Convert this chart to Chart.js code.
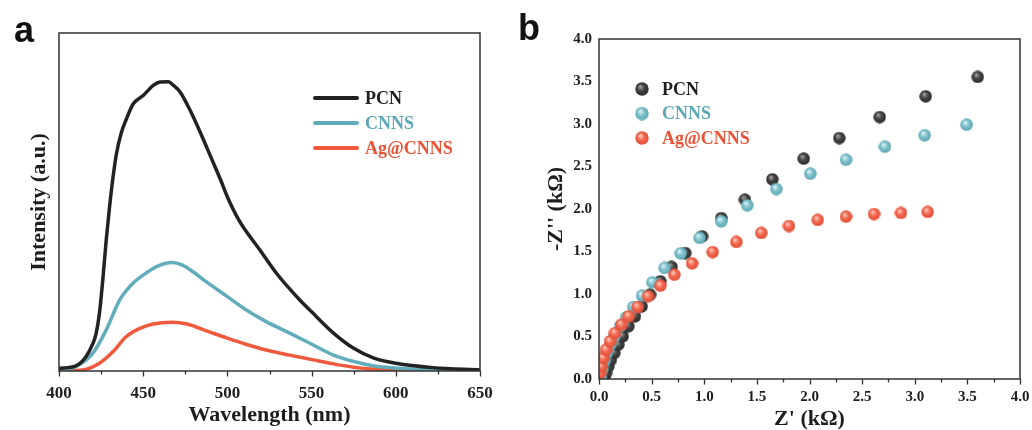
<!DOCTYPE html>
<html>
<head>
<meta charset="utf-8">
<script src="https://cdn.jsdelivr.net/npm/chart.js@4.4.1/dist/chart.umd.min.js"></script>
<style>
  html, body { margin: 0; padding: 0; background: #fff; }
  #wrap { position: relative; width: 1032px; height: 430px; overflow: hidden; }
  .panel { position: absolute; top: 0; height: 430px; }
  #pA { left: 0; width: 500px; }
  #pB { left: 520px; width: 512px; }
  .tag { position: absolute; font-family: "Liberation Sans", Arial, sans-serif; font-weight: bold; font-size: 36px; line-height: 1; color: #111; }
</style>
</head>
<body>
<div id="wrap">
  <div class="panel" id="pA"><canvas id="plA" width="500" height="430"></canvas></div>
  <div class="panel" id="pB"><canvas id="plB" width="512" height="430"></canvas></div>
  <div class="tag" style="left:14px; top:12px;">a</div>
  <div class="tag" style="left:518px; top:10px;">b</div>
</div>
<script>
// ---- panel a: photoluminescence spectra ----
const pcnWl  = [400, 410, 416, 420, 422, 424, 426, 428, 430, 432, 434, 437, 440, 444, 450, 456, 460, 465, 468, 472, 478, 484, 490, 496, 500, 507, 519, 529, 543, 550, 563, 575, 587, 600, 622, 650];
const pcnInt = [0.8, 1.5, 4.2, 8, 11, 17, 27, 38.5, 48.5, 57, 64, 70.5, 74.5, 79, 81.5, 84.5, 85.5, 85.6, 84.5, 82.5, 77, 70.5, 63.5, 56.5, 51.5, 44.5, 36, 29, 21, 17.5, 11.2, 6.7, 3.8, 2.3, 1.0, 0.3];

const cnnsWl  = [400, 410, 420, 428, 436, 444, 450, 458, 467, 473, 480, 488, 500, 511, 523, 537, 551, 563, 575, 587, 602, 622, 650];
const cnnsInt = [0.3, 1.3, 5.2, 12.1, 21, 26, 28.4, 30.9, 32.1, 31.4, 29.2, 26.2, 22, 18.1, 14.6, 11.2, 7.7, 4.7, 2.8, 1.5, 0.8, 0.3, 0.1];

const agWl  = [400, 414, 424, 432, 440, 448, 456, 467, 476, 488, 500, 511, 523, 537, 551, 563, 575, 587, 602, 650];
const agInt = [0, 0.3, 2.3, 5.7, 10.2, 12.6, 13.9, 14.4, 13.9, 11.8, 9.7, 7.9, 6.2, 4.7, 3.3, 2.1, 1.1, 0.5, 0.2, 0];

// ---- panel b: Nyquist plots (kOhm) ----
const pcnRe = [0.051, 0.067, 0.089, 0.114, 0.146, 0.184, 0.225, 0.279, 0.342, 0.405, 0.485, 0.583, 0.690, 0.820, 0.979, 1.162, 1.387, 1.647, 1.945, 2.283, 2.667, 3.104, 3.598];
const pcnIm = [0.012, 0.071, 0.149, 0.227, 0.306, 0.404, 0.502, 0.620, 0.737, 0.855, 0.992, 1.149, 1.318, 1.482, 1.678, 1.894, 2.110, 2.349, 2.592, 2.835, 3.082, 3.325, 3.553];

const cnnsRe = [0.019, 0.032, 0.051, 0.076, 0.108, 0.149, 0.200, 0.257, 0.326, 0.409, 0.507, 0.624, 0.776, 0.956, 1.162, 1.409, 1.685, 2.008, 2.347, 2.717, 3.094, 3.493];
const cnnsIm = [0.024, 0.110, 0.208, 0.306, 0.404, 0.502, 0.620, 0.725, 0.847, 0.980, 1.137, 1.306, 1.478, 1.659, 1.855, 2.043, 2.235, 2.416, 2.580, 2.733, 2.867, 2.992];

const agRe = [0.010, 0.022, 0.041, 0.067, 0.105, 0.152, 0.212, 0.282, 0.367, 0.466, 0.583, 0.716, 0.884, 1.080, 1.305, 1.542, 1.805, 2.078, 2.347, 2.613, 2.869, 3.123];
const agIm = [0.071, 0.149, 0.247, 0.345, 0.443, 0.541, 0.639, 0.737, 0.847, 0.973, 1.098, 1.227, 1.361, 1.494, 1.612, 1.718, 1.800, 1.871, 1.910, 1.941, 1.953, 1.965];

const seriesNames = ['PCN', 'CNNS', 'Ag@CNNS'];
const lineColors  = ['#222222', '#62adbb', '#ef5a3c'];
const textColors  = ['#1e1e1e', '#5aa8b6', '#ec5236'];

const SERIF = "'Liberation Serif', 'Times New Roman', serif";

function pts(xs, ys) {
    return xs.map((x, i) => ({ x: x, y: ys[i] }));
}

// shaded ball used as the marker
function sphere(light, base, dark, r) {
    const c = document.createElement('canvas');
    c.width = c.height = Math.ceil(r * 2);
    const g = c.getContext('2d');
    const m = c.width / 2;
    const grad = g.createRadialGradient(m * 0.75, m * 0.65, m * 0.1, m, m, m);
    grad.addColorStop(0, light);
    grad.addColorStop(0.45, base);
    grad.addColorStop(1, dark);
    g.fillStyle = grad;
    g.beginPath();
    g.arc(m, m, m - 0.3, 0, Math.PI * 2);
    g.fill();
    return c;
}

const ballColors = [
    ['#9a9a9a', '#444444', '#2a2a2a'],
    ['#d6eef2', '#80c2cd', '#5aa3b0'],
    ['#ffc2b4', '#f26a52', '#e04a32']
];
const balls = ballColors.map(c => sphere(c[0], c[1], c[2], 6.5));
const legendBalls = ballColors.map(c => sphere(c[0], c[1], c[2], 7));

// frame, tick marks and legend
const framePlugin = {
    id: 'frame',
    afterDraw(chart, args, opts) {
        const { ctx, chartArea: a } = chart;
        ctx.save();
        ctx.strokeStyle = '#333';
        ctx.lineWidth = 1.5;
        ctx.strokeRect(a.left, a.top, a.right - a.left, a.bottom - a.top);

        const xs = chart.scales.x;
        ctx.lineWidth = 1.3;
        xs.ticks.forEach(t => {
            const px = Math.round(xs.getPixelForValue(t.value)) + 0.5;
            const len = t.label === '' ? 3.5 : 5.5;
            ctx.beginPath();
            ctx.moveTo(px, a.bottom);
            ctx.lineTo(px, a.bottom + len);
            ctx.stroke();
        });

        // legend
        ctx.font = 'bold 18px ' + SERIF;
        ctx.textBaseline = 'middle';
        ctx.textAlign = 'left';
        chart.data.datasets.forEach((ds, i) => {
            const y = opts.y + i * opts.gap;
            if (opts.kind === 'line') {
                ctx.strokeStyle = ds.borderColor;
                ctx.lineWidth = 4;
                ctx.lineCap = 'round';
                ctx.beginPath();
                ctx.moveTo(opts.x, y);
                ctx.lineTo(opts.x + 42, y);
                ctx.stroke();
                ctx.fillStyle = textColors[i];
                ctx.fillText(ds.label, opts.x + 50, y + 1);
            } else {
                const img = legendBalls[i];
                ctx.drawImage(img, opts.x - img.width / 2, y - img.height / 2);
                ctx.fillStyle = textColors[i];
                ctx.fillText(ds.label, opts.x + 20, y + 1);
            }
        });
        ctx.restore();
    }
};

Chart.defaults.font.family = SERIF;
Chart.defaults.color = '#1e1e1e';
Chart.defaults.animation = false;

const titleFont = { size: 22, weight: 'bold', lineHeight: 1 };
const noGrid = { display: false, drawTicks: false };

function fixX(h) {
    return s => { s.height = h; s.paddingLeft = 0; s.paddingRight = 0; };
}
function fixY(w) {
    return s => { s.width = w; s.paddingTop = 0; s.paddingBottom = 0; };
}

// panel a
new Chart(document.getElementById('plA'), {
    type: 'line',
    data: {
        datasets: [pcnWl, cnnsWl, agWl].map((wl, i) => ({
            label: seriesNames[i],
            data: pts(wl, [pcnInt, cnnsInt, agInt][i]),
            borderColor: lineColors[i],
            borderWidth: 3.5,
            pointRadius: 0,
            fill: false,
            cubicInterpolationMode: 'monotone'
        }))
    },
    options: {
        responsive: false,
        layout: { padding: { top: 33, right: 20, left: 0, bottom: 0 } },
        plugins: {
            legend: { display: false },
            tooltip: { enabled: false },
            frame: { kind: 'line', x: 315, y: 98, gap: 25 }
        },
        scales: {
            x: {
                type: 'linear',
                min: 400, max: 650,
                grid: noGrid,
                border: { display: false },
                ticks: {
                    stepSize: 25,
                    padding: 12,
                    font: { size: 17, weight: 'bold' },
                    maxRotation: 0,
                    callback: v => (v % 50 === 0 ? String(v) : '')
                },
                title: { display: true, text: 'Wavelength (nm)', font: titleFont, padding: { top: 0, bottom: 4 } },
                afterFit: fixX(59)
            },
            y: {
                min: 0, max: 100,
                grid: noGrid,
                border: { display: false },
                ticks: { display: false },
                title: { display: true, text: 'Intensity (a.u.)', font: titleFont, padding: { top: 28, bottom: 0 } },
                afterFit: fixY(59)
            }
        }
    },
    plugins: [framePlugin]
});

// panel b
new Chart(document.getElementById('plB'), {
    type: 'scatter',
    data: {
        datasets: [[pcnRe, pcnIm], [cnnsRe, cnnsIm], [agRe, agIm]].map((d, i) => ({
            label: seriesNames[i],
            data: pts(d[0], d[1]),
            pointStyle: balls[i],
            pointRadius: 6.5,
            order: 2 - i
        }))
    },
    options: {
        responsive: false,
        layout: { padding: { top: 39, right: 12, left: 0, bottom: 0 } },
        plugins: {
            legend: { display: false },
            tooltip: { enabled: false },
            frame: { kind: 'point', x: 122, y: 89, gap: 24.5 }
        },
        scales: {
            x: {
                type: 'linear',
                min: 0, max: 4,
                grid: noGrid,
                border: { display: false },
                ticks: {
                    stepSize: 0.25,
                    padding: 9,
                    font: { size: 15, weight: 'bold' },
                    maxRotation: 0,
                    callback: v => (Math.abs(v * 2 - Math.round(v * 2)) < 1e-6 ? v.toFixed(1) : '')
                },
                title: { display: true, text: "Z' (k\u03A9)", font: titleFont, padding: { top: 0, bottom: 0 } },
                afterFit: fixX(51)
            },
            y: {
                min: 0, max: 4,
                grid: noGrid,
                border: { display: false },
                ticks: {
                    stepSize: 0.5,
                    padding: 7,
                    font: { size: 15, weight: 'bold' },
                    callback: v => v.toFixed(1)
                },
                title: { display: true, text: "-Z'' (k\u03A9)", font: titleFont, padding: { top: 25, bottom: 0 } },
                afterFit: fixY(79)
            }
        }
    },
    plugins: [framePlugin]
});
</script>
</body>
</html>
